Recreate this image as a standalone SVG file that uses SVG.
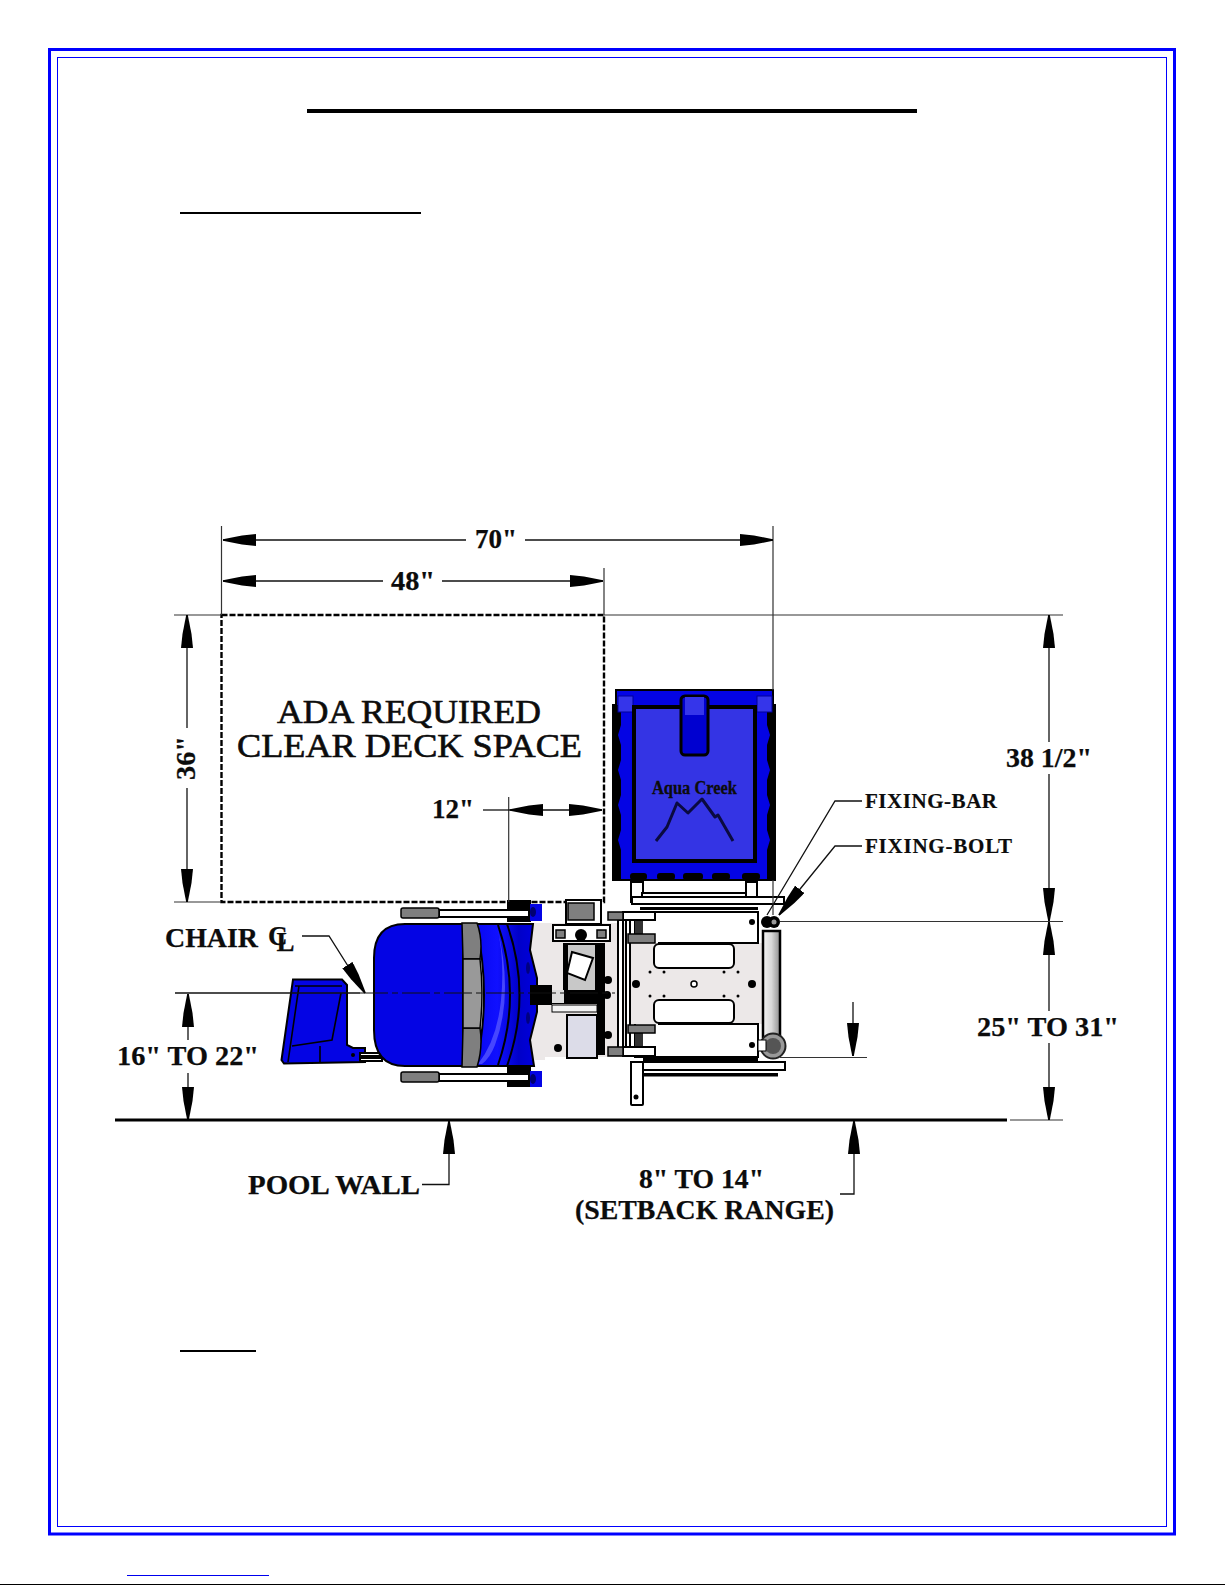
<svg xmlns="http://www.w3.org/2000/svg" width="1225" height="1585" viewBox="0 0 1225 1585">
<style>
text{font-family:"Liberation Serif","Times New Roman",serif;font-weight:bold;fill:#0c0c0c}
.d{font-size:28px;stroke:#0c0c0c;stroke-width:.25px}.m{font-size:27px;stroke:#0c0c0c;stroke-width:.25px}.s{font-size:21px;stroke:#0c0c0c;stroke-width:.2px}
.ada{font-size:33px;font-weight:normal;stroke:#0c0c0c;stroke-width:.6px}
.dim{fill:none;stroke:#111;stroke-width:1.3}
.arw{fill:none;stroke:#111;stroke-width:1.3;marker-end:url(#ah)}
.ext{fill:none;stroke:#333;stroke-width:1.2}
.k{stroke:#000;stroke-width:2}
.kt{stroke:#000;stroke-width:1.6}
.nf{fill:none}
.wh{fill:#fff;stroke:#000;stroke-width:2}
.gr{fill:#7f7f7f;stroke:#000;stroke-width:1.5}
.pl{fill:#ece8e8}
.bk{fill:#000}
.bl{fill:#0404e4}
</style>
<defs>
<marker id="ah" markerUnits="userSpaceOnUse" viewBox="0 0 34 12" refX="33" refY="6" markerWidth="34" markerHeight="12" orient="auto"><path d="M0 0L14 1.5L33 5.2V6.800L14 10.500L0 12Z" fill="#000"/></marker>
<linearGradient id="cyl" x1="0" x2="1" y1="0" y2="0"><stop offset="0" stop-color="#f4f4f4"/><stop offset=".5" stop-color="#d8d8d8"/><stop offset="1" stop-color="#8e8e8e"/></linearGradient>
<linearGradient id="bk" x1="0" x2="1" y1="0" y2="0"><stop offset="0" stop-color="#0808f0"/><stop offset=".35" stop-color="#1010ff"/><stop offset=".7" stop-color="#0000c8"/><stop offset="1" stop-color="#0000e0"/></linearGradient>
</defs>
<rect width="1225" height="1585" fill="#fff"/>

<g id="page-frame">
<rect x="49.500" y="49.500" width="1125" height="1484.500" fill="none" stroke="#0000ff" stroke-width="3"/>
<rect x="57.500" y="57.500" width="1109" height="1469" fill="none" stroke="#0000ff" stroke-width="1"/>
<rect x="307" y="109" width="610" height="4" fill="#000"/>
<rect x="180" y="212" width="241" height="2" fill="#000"/>
<rect x="180" y="1350" width="76" height="2" fill="#000"/>
<rect x="127" y="1575" width="142" height="1" fill="#0000ee"/>
<rect x="0" y="1584" width="1225" height="1" fill="#000"/>
</g>

<g id="clear-deck-space">
<rect x="221.500" y="615" width="382.500" height="287" fill="none" stroke="#000" stroke-width="2.400" stroke-dasharray="6 2"/>
<text class="ada"><tspan x="277" y="723" textLength="264" lengthAdjust="spacingAndGlyphs">ADA REQUIRED</tspan><tspan x="237" y="757" textLength="345" lengthAdjust="spacingAndGlyphs">CLEAR DECK SPACE</tspan></text>
</g>

<g id="footrest">
<path class="bl k" d="M293 979.500H342L347 985V1045L353 1048H365V1062L284 1063.500L281.500 1060Z"/>
<path class="nf kt" d="M295 986H342M341 993L332 1040L292 1046M299 986L288 1062M320 1046V1062"/>
<circle cx="353" cy="1055" r="2" class="bk"/>
<rect x="360" y="1053" width="22" height="3" class="wh" stroke-width="1"/>
<rect x="360" y="1058" width="22" height="3" class="wh" stroke-width="1"/>
</g>

<g id="base-plate">
<rect class="pl" x="533" y="923" width="97" height="134"/>
<rect x="566" y="900" width="35" height="24" class="wh"/>
<rect x="568" y="903" width="26" height="17" class="gr"/>
<path class="wh" d="M553 925H610V941H553Z"/>
<rect x="556" y="930" width="9" height="8" class="gr"/>
<rect x="597" y="930" width="9" height="8" class="gr"/>
<circle cx="581" cy="935" r="6" class="bk"/>
<rect x="563" y="943" width="42" height="50" fill="#000"/>
<rect x="568" y="945" width="27" height="48" fill="#c8c8c8"/>
<path class="wh" d="M572 952L593 958L585 980L567 973Z"/>
<rect x="530" y="990" width="72" height="14" class="bk"/>
<rect x="552" y="990" width="12" height="13" fill="#ddd"/>
<rect x="552" y="1005" width="45" height="7" fill="#f4f4f4" stroke="#000"/>
<rect x="567" y="1015" width="30" height="43" fill="#dcdce8" stroke="#000" stroke-width="2"/>
<path class="bk" d="M597 948H605V1055H597Z"/>
<circle cx="608" cy="980" r="4" class="bk"/><circle cx="607" cy="995" r="4" class="bk"/><circle cx="608" cy="1035" r="4" class="bk"/><circle cx="558" cy="1048" r="4" class="bk"/>
<rect x="618" y="920" width="5" height="130" class="wh" stroke-width="1.500"/>
<rect x="626" y="920" width="4" height="130" class="wh" stroke-width="1.500"/>
</g>

<g id="chair">
<path class="pl" d="M530 923H545V1060H530Z"/>
<rect x="507" y="900" width="24" height="22" class="bk"/>
<rect x="507" y="1067" width="24" height="20" class="bk"/>
<rect x="530" y="904" width="12" height="17" class="bl"/><ellipse cx="533" cy="912" rx="3" ry="5" fill="#000070"/>
<rect x="530" y="1071" width="12" height="16" class="bl"/><ellipse cx="533" cy="1079" rx="3" ry="5" fill="#000070"/>
<rect x="439" y="910" width="90" height="7" class="wh"/>
<rect x="401" y="908" width="38" height="10" rx="2" class="gr"/>
<rect x="439" y="1074" width="90" height="7" class="wh"/>
<rect x="401" y="1072" width="38" height="10" rx="2" class="gr"/>
<path d="M476 924H533L530 950L537 978V1012L530 1040L534 1066H476Q492 995 476 924Z" fill="url(#bk)" stroke="#000" stroke-width="2"/>
<path d="M478 1064Q497 1040 501 1000Q505 960 497 926Q514 995 495 1045Q490 1058 482 1064Z" fill="#5a5aff" opacity=".75"/>
<path class="nf k" d="M498 925Q522 995 498 1065M507 924Q532 995 507 1066"/>
<path class="bl k" d="M463 924H405Q374 924 374 958V1030Q374 1066 405 1066H463Z"/>
<path d="M462 923H477Q483 940 480 959H463ZM463 1028H480Q483 1048 477 1067H462Z" class="gr"/>
<path d="M463 959H480Q484 993 480 1028H463Z" fill="#999" stroke="#000" stroke-width="1.500"/>
<ellipse cx="528" cy="968" rx="2" ry="6" fill="#000080"/><ellipse cx="528" cy="1018" rx="2" ry="6" fill="#000080"/>
<rect x="530" y="985" width="22" height="20" class="bk"/>
</g>

<g id="frame">
<rect x="631" y="882" width="12" height="20" class="wh"/><rect x="746" y="882" width="11" height="20" class="wh"/>
<rect x="642" y="893" width="104" height="4" class="wh"/>
<rect x="632" y="897" width="152" height="7" class="wh"/>
<rect x="640" y="907" width="118" height="3" class="bk"/>
<rect x="635" y="912" width="123" height="32" class="wh"/>
<rect x="635" y="1023" width="123" height="34" class="wh"/>
<rect class="pl" x="630" y="943" width="132" height="81"/>
<path class="nf k" d="M630 943V1024"/>
<path d="M658 943H758V912M658 1024H758V1057" class="nf k"/>
<rect x="654" y="944" width="80" height="24" rx="5" class="wh"/>
<rect x="654" y="1000" width="80" height="23" rx="5" class="wh"/>
<g class="bk"><circle cx="650" cy="972" r="1.500"/><circle cx="664" cy="972" r="1.500"/><circle cx="724" cy="972" r="1.500"/><circle cx="738" cy="972" r="1.500"/><circle cx="650" cy="996" r="1.500"/><circle cx="664" cy="996" r="1.500"/><circle cx="724" cy="996" r="1.500"/><circle cx="738" cy="996" r="1.500"/><circle cx="636" cy="984" r="4"/><circle cx="752" cy="984" r="4"/><circle cx="752" cy="922" r="3"/><circle cx="752" cy="1045" r="3"/></g>
<circle cx="694" cy="984" r="3" fill="#fff" stroke="#000" stroke-width="1.500"/>
<rect x="635" y="920" width="8" height="14" fill="#333"/><rect x="635" y="1033" width="8" height="14" fill="#333"/>
<rect x="628" y="934" width="27" height="9" class="gr"/><rect x="628" y="1025" width="27" height="8" class="gr"/>
<rect x="623" y="912" width="32" height="8" class="wh"/><rect x="608" y="912" width="15" height="8" class="gr"/>
<rect x="623" y="1047" width="32" height="9" class="wh"/><rect x="608" y="1047" width="15" height="9" class="gr"/>
<rect x="643" y="1057" width="115" height="4" class="bk"/>
<rect x="631" y="1062" width="154" height="8" class="wh"/>
<rect x="643" y="1073" width="135" height="3.500" class="bk"/>
<rect x="631" y="1062" width="12" height="43" rx="1" class="wh"/>
<circle cx="636" cy="1097" r="2.500" class="bk"/>
<rect x="763" y="931" width="17" height="106" fill="url(#cyl)" stroke="#000" stroke-width="2.500"/>
<circle cx="773" cy="1046" r="12.500" fill="#999" stroke="#222" stroke-width="2"/>
<circle cx="773" cy="1046" r="8" fill="#555"/>
<rect x="758" y="1040" width="8" height="11" fill="#fff" stroke="#000"/>
<circle cx="767" cy="922" r="6" class="bk"/><circle cx="774" cy="922" r="6" class="bk"/><circle cx="774" cy="922" r="2.500" fill="#999"/>
</g>

<g id="bucket">
<path class="bl k" d="M616 690H773V705H775V880H613V705H616Z"/>
<path class="bk" d="M613 705H621V725L618 735L621 745V760L618 770L621 780V795L618 805L621 815V830L618 840L621 850V880H613Z"/>
<path class="bk" d="M775 705H767V725L770 735L767 745V760L770 770L767 780V795L770 805L767 815V830L770 840L767 850V880H775Z"/>
<rect x="618" y="696" width="15" height="16" fill="#3535ea" stroke="#00009a"/>
<rect x="757" y="696" width="15" height="16" fill="#3535ea" stroke="#00009a"/>
<rect x="634" y="707" width="121" height="154" fill="#3434e4" stroke="#000" stroke-width="4"/>
<rect x="681" y="696" width="27" height="59" rx="4" fill="#0000d0" stroke="#000" stroke-width="3"/>
<rect x="685" y="697" width="19" height="18" fill="#3535ea"/>
<g class="bk"><rect x="630" y="873" width="17" height="7" rx="3"/><rect x="657" y="873" width="18" height="7" rx="3"/><rect x="683" y="873" width="20" height="7" rx="3"/><rect x="712" y="873" width="18" height="7" rx="3"/><rect x="742" y="873" width="18" height="7" rx="3"/></g>
<text x="652" y="794" font-size="18" stroke="#0c0c0c" stroke-width=".3" textLength="85" lengthAdjust="spacingAndGlyphs">Aqua Creek</text>
<polyline points="656,841 667,827 677,803 688,813 702,799 715,817 718,815 733,841" fill="none" stroke="#0a0a40" stroke-width="3" stroke-linejoin="round"/>
</g>

<g id="connectors">
<path class="ext" d="M221.500 526V615M773 526V690M773 880V915M604 568V615M174 615H221M604 615H1063M174 902H221M508.700 797V902M780 921.500H1063M780 1057.500H867M1010 1120H1063"/>
<path d="M115 1120H1007" stroke="#000" stroke-width="3.200" fill="none"/>
<path class="dim" d="M175 993H360"/>
<path d="M360 993H615" fill="none" stroke="#111" stroke-width="1" stroke-dasharray="28 4 6 4"/>
<path class="arw" d="M466 540H223"/><path class="arw" d="M525 540H773"/>
<path class="arw" d="M383 581H223"/><path class="arw" d="M442 581H603"/>
<path class="arw" d="M187 728V615"/><path class="arw" d="M187 788V902"/>
<path class="dim" d="M483 810H510"/><path class="arw" d="M550 810H510"/><path class="arw" d="M550 810H602"/>
<path class="arw" d="M1049 742V615"/><path class="arw" d="M1049 774V921"/>
<path class="arw" d="M1049 1011V922"/><path class="arw" d="M1049 1043V1120"/>
<path class="arw" d="M188 1040V994"/><path class="arw" d="M188 1073V1120"/>
<path class="arw" d="M853 1002V1056"/>
<path class="arw" d="M422 1184.500H449V1121"/>
<path class="arw" d="M840 1194H854V1121"/>
<path class="arw" d="M302 936H329L365 993"/>
<path class="dim" d="M862 801H835L767 915"/>
<path class="arw" d="M862 846H835L779 915"/>
</g>

<g id="labels">
<text class="d" x="475" y="548" textLength="42" lengthAdjust="spacingAndGlyphs">70"</text>
<text class="d" x="391" y="590" textLength="44" lengthAdjust="spacingAndGlyphs">48"</text>
<text class="d" transform="translate(195 780) rotate(-90)" textLength="44" lengthAdjust="spacingAndGlyphs">36"</text>
<text class="d" x="432" y="818" textLength="42" lengthAdjust="spacingAndGlyphs">12"</text>
<text class="d" x="1006" y="767" textLength="86" lengthAdjust="spacingAndGlyphs">38 1/2"</text>
<text class="d" x="977" y="1036" textLength="142" lengthAdjust="spacingAndGlyphs">25" TO 31"</text>
<text class="d" x="117" y="1065" textLength="142" lengthAdjust="spacingAndGlyphs">16" TO 22"</text>
<text class="m" x="165" y="947" textLength="93" lengthAdjust="spacingAndGlyphs">CHAIR</text>
<text class="m" x="268" y="945">C<tspan dx="-11" dy="6">L</tspan></text>
<text class="m" x="248" y="1194" textLength="172" lengthAdjust="spacingAndGlyphs">POOL WALL</text>
<text class="m" x="639" y="1188" textLength="125" lengthAdjust="spacingAndGlyphs">8" TO 14"</text>
<text class="m" x="575" y="1219" textLength="259" lengthAdjust="spacingAndGlyphs">(SETBACK RANGE)</text>
<text class="s" x="865" y="808" textLength="132" lengthAdjust="spacing">FIXING-BAR</text>
<text class="s" x="865" y="853" textLength="147" lengthAdjust="spacing">FIXING-BOLT</text>
</g>
</svg>
